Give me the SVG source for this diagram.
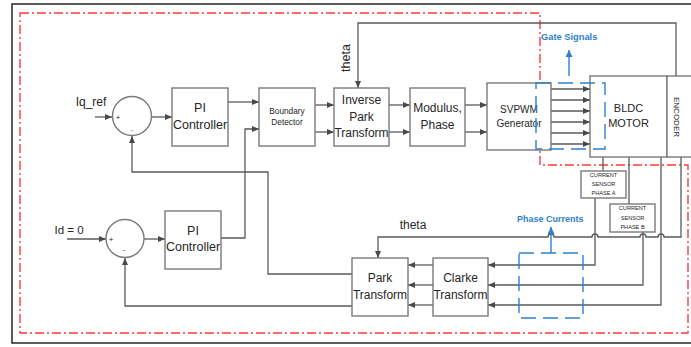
<svg xmlns="http://www.w3.org/2000/svg" width="691" height="347" viewBox="0 0 691 347">
<style>
.box{fill:#fff;stroke:#7a7a7a;stroke-width:1.4}
.w{fill:none;stroke:#5a5a5a;stroke-width:1.3}
.wa{fill:none;stroke:#5a5a5a;stroke-width:1.3;marker-end:url(#ah)}
.t{font-family:"Liberation Sans",Arial,sans-serif;fill:#262626;text-anchor:middle}
.blue{font-family:"Liberation Sans",Arial,sans-serif;fill:#2e80cc;font-weight:bold}
.bd{fill:none;stroke:#2e80cc;stroke-width:1.4;stroke-dasharray:15 7}
</style>
<defs>
<marker id="ah" markerUnits="userSpaceOnUse" markerWidth="7" markerHeight="6" refX="7" refY="3" orient="auto"><path d="M0,0 L7,3 L0,6 z" fill="#4a4a4a"/></marker>
<marker id="bh" markerUnits="userSpaceOnUse" markerWidth="7" markerHeight="7" refX="7" refY="3.5" orient="auto"><path d="M0,0 L7,3.5 L0,7 z" fill="#2e80cc"/></marker>
</defs>
<rect x="0" y="0" width="691" height="347" fill="#fff"/>
<rect x="12" y="4" width="700" height="339" fill="none" stroke="#262626" stroke-width="1.5"/>
<path d="M20,13 H540 V165 H688 V333 H20 Z" fill="none" stroke="#ff3b3b" stroke-width="1.4" stroke-dasharray="9 3 2 3"/>

<g id="connectors">
<path class="wa" d="M95,117 H112"/>
<path class="wa" d="M151,117 H172"/>
<path class="wa" d="M228,102 H259"/>
<path class="wa" d="M221,238 H245 V129 H259"/>
<path class="wa" d="M315,105 H334"/>
<path class="wa" d="M315,132 H334"/>
<path class="wa" d="M389,105 H410"/>
<path class="wa" d="M389,132 H410"/>
<path class="wa" d="M465,105 H487"/>
<path class="wa" d="M465,132 H487"/>
<path class="wa" d="M551,89 H590"/>
<path class="wa" d="M551,100 H590"/>
<path class="wa" d="M551,111 H590"/>
<path class="wa" d="M551,122 H590"/>
<path class="wa" d="M551,133 H590"/>
<path class="wa" d="M551,144 H590"/>
<path class="wa" d="M676,76 V23 H358 V88"/>
<path class="wa" d="M67,239 H106"/>
<path class="wa" d="M144,239 H165"/>
<path class="wa" d="M352,274 H268 V172 H132 V136"/>
<path class="wa" d="M352,306 H125 V258"/>
<path class="wa" d="M433,265 H408"/>
<path class="wa" d="M433,285 H408"/>
<path class="wa" d="M433,305 H408"/>
<path class="w" d="M603,157 V171"/>
<path class="wa" d="M595,198 V265 H488"/>
<path class="w" d="M629,157 V204"/>
<path class="wa" d="M643,232 V285 H488"/>
<path class="wa" d="M661,157 V305 H488"/>
<path class="wa" d="M681,157 V237 H664 A3,3 0 0 0 658,237 H646 A3,3 0 0 0 640,237 H598 A3,3 0 0 0 592,237 H554 A3,3 0 0 0 548,237 H378 V258"/>
<path d="M569,76 V50" fill="none" stroke="#2e80cc" stroke-width="1.4" marker-end="url(#bh)"/>
<path d="M551,253 V227" fill="none" stroke="#2e80cc" stroke-width="1.4" marker-end="url(#bh)"/>
</g>

<g id="sum1">
<circle cx="132" cy="116" r="19.5" class="box"/>
<text class="t" x="118" y="120" font-size="8">+</text>
<text class="t" x="132" y="131" font-size="8">.</text>
</g>
<text id="iqref" class="t" x="91" y="106" font-size="12">Iq_ref</text>

<g id="pi1">
<rect class="box" x="172" y="88" width="56" height="58"/>
<text class="t" x="200" y="112" font-size="12.5">PI</text>
<text class="t" x="200" y="129" font-size="12.5">Controller</text>
</g>

<g id="boundary">
<rect class="box" x="259" y="88" width="56" height="58"/>
<text class="t" x="287" y="114" font-size="8.3">Boundary</text>
<text class="t" x="287" y="125" font-size="8.3">Detector</text>
</g>

<g id="invpark">
<rect class="box" x="334" y="88" width="55" height="58"/>
<text class="t" x="361.5" y="104" font-size="12">Inverse</text>
<text class="t" x="361.5" y="121" font-size="12">Park</text>
<text class="t" x="361.5" y="137" font-size="12">Transform</text>
</g>
<text class="t" x="350" y="58" font-size="12.5" transform="rotate(-90 350 58)">theta</text>

<g id="modulus">
<rect class="box" x="410" y="88" width="55" height="58"/>
<text class="t" x="437.5" y="112" font-size="12">Modulus,</text>
<text class="t" x="437.5" y="129" font-size="12">Phase</text>
</g>

<g id="svpwm">
<rect class="box" x="487" y="83" width="64" height="67"/>
<text class="t" x="519" y="113" font-size="10">SVPWM</text>
<text class="t" x="519" y="127" font-size="10">Generator</text>
</g>

<g id="bldc">
<rect class="box" x="590" y="76" width="77" height="81"/>
<text class="t" x="628.5" y="112" font-size="11">BLDC</text>
<text class="t" x="628.5" y="127" font-size="11">MOTOR</text>
</g>

<g id="encoder">
<rect class="box" x="667" y="76" width="40" height="81"/>
<text class="t" x="674" y="117" font-size="8" transform="rotate(90 674 117)">ENCODER</text>
</g>

<g id="gate">
<rect class="bd" x="536" y="83" width="69" height="66"/>
<text class="blue" x="541" y="40" font-size="9.3">Gate Signals</text>
</g>

<g id="sensorA">
<rect class="box" x="581" y="171" width="45" height="27"/>
<text class="t" x="603.5" y="177" font-size="5.6">CURRENT</text>
<text class="t" x="603.5" y="186" font-size="5.6">SENSOR</text>
<text class="t" x="603.5" y="195" font-size="5.6">PHASE A</text>
</g>

<g id="sensorB">
<rect class="box" x="610" y="204" width="45" height="28"/>
<text class="t" x="632.5" y="210" font-size="5.6">CURRENT</text>
<text class="t" x="632.5" y="220" font-size="5.6">SENSOR</text>
<text class="t" x="632.5" y="229" font-size="5.6">PHASE B</text>
</g>

<g id="phasecurr">
<rect class="bd" x="519" y="253" width="64" height="65"/>
<text class="blue" x="517" y="222" font-size="9">Phase Currents</text>
</g>
<text class="t" x="413" y="229" font-size="12">theta</text>

<g id="sum2">
<circle cx="125" cy="238.5" r="19" class="box"/>
<text class="t" x="111" y="242" font-size="8">+</text>
<text class="t" x="124" y="252" font-size="8">-</text>
</g>
<text id="id0" class="t" x="69" y="234" font-size="11.5">Id = 0</text>

<g id="pi2">
<rect class="box" x="165" y="211" width="56" height="58"/>
<text class="t" x="193" y="235" font-size="12.5">PI</text>
<text class="t" x="193" y="251" font-size="12.5">Controller</text>
</g>

<g id="park">
<rect class="box" x="352" y="258" width="56" height="58"/>
<text class="t" x="380" y="282" font-size="12">Park</text>
<text class="t" x="380" y="299" font-size="12">Transform</text>
</g>

<g id="clarke">
<rect class="box" x="433" y="258" width="55" height="58"/>
<text class="t" x="460.5" y="282" font-size="12">Clarke</text>
<text class="t" x="460.5" y="299" font-size="12">Transform</text>
</g>
</svg>
